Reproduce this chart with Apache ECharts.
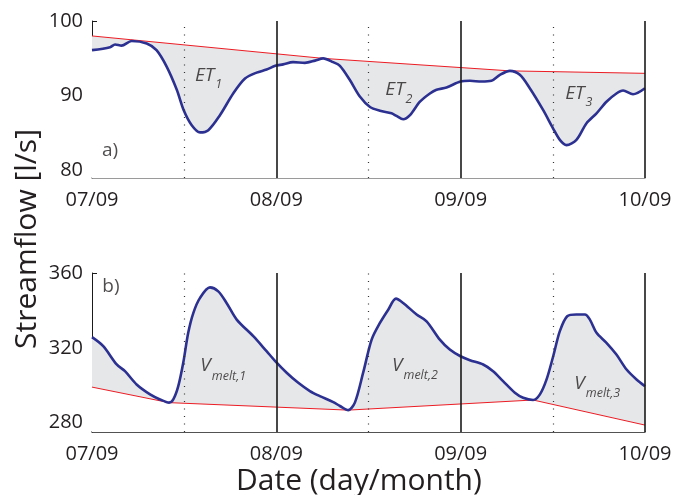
<!DOCTYPE html>
<html>
<head>
<meta charset="utf-8">
<script src="https://cdn.jsdelivr.net/npm/echarts@6/dist/echarts.min.js"></script>
<style>
  html, body { margin: 0; padding: 0; background: #fff; }
  #chart { width: 675px; height: 495px; }
</style>
</head>
<body>
<div id="chart"></div>
<script>
// Day tick labels (x in days since 07/09)
const dayLabels = ['07/09', '08/09', '09/09', '10/09'];
const dayTicks = [0, 1, 2, 3];
const middayLines = [0.5, 1.5, 2.5];

// Panel a) streamflow during ET drawdown [l/s]
const etTime = [0, 0.098, 0.125, 0.16, 0.215, 0.297, 0.35, 0.405, 0.46, 0.497, 0.54, 0.586, 0.631, 0.694,
  0.766, 0.83, 0.893, 0.947, 0.994, 1.037, 1.091, 1.155, 1.21, 1.254, 1.308, 1.345, 1.399, 1.453, 1.508,
  1.562, 1.625, 1.652, 1.688, 1.725, 1.779, 1.833, 1.869, 1.923, 1.999, 2.05, 2.113, 2.167, 2.213, 2.267,
  2.321, 2.375, 2.447, 2.501, 2.538, 2.574, 2.628, 2.682, 2.737, 2.791, 2.845, 2.881, 2.935, 3.0];
const etFlow = [96.1, 96.5, 96.85, 96.7, 97.33, 97.0, 96.1, 93.9, 90.8, 88.1, 86.1, 85.1, 85.4, 87.4,
  90.3, 92.3, 93.1, 93.5, 94.0, 94.2, 94.5, 94.4, 94.7, 95.0, 94.5, 94.0, 92.1, 89.9, 88.5,
  88.0, 87.65, 87.3, 86.85, 87.4, 89.2, 90.3, 90.8, 91.1, 91.9, 92.0, 91.9, 92.0, 92.8, 93.33,
  92.8, 91.0, 88.1, 85.65, 84.1, 83.4, 84.1, 86.3, 87.65, 89.2, 90.3, 90.7, 90.2, 91.0];
// Upper envelope through daily maxima
const etEnvTime = [0, 1.254, 2.267, 3.0];
const etEnv = [98.0, 95.0, 93.33, 93.0];

// Panel b) streamflow during melt pulses [l/s]
const meltTime = [0, 0.061, 0.134, 0.179, 0.242, 0.315, 0.369, 0.418, 0.441, 0.468, 0.495, 0.522, 0.55,
  0.586, 0.64, 0.685, 0.73, 0.785, 0.875, 0.947, 0.994, 1.056, 1.119, 1.182, 1.236, 1.309, 1.345, 1.39,
  1.426, 1.471, 1.517, 1.562, 1.607, 1.649, 1.688, 1.761, 1.815, 1.887, 1.941, 1.999, 2.05, 2.122, 2.176,
  2.23, 2.294, 2.339, 2.393, 2.43, 2.466, 2.502, 2.538, 2.578, 2.628, 2.674, 2.701, 2.737, 2.791, 2.845,
  2.9, 2.954, 3.0];
const meltFlow = [325.7, 320.9, 311.1, 307.5, 300.4, 295.1, 292.4, 290.7, 292.4, 299.5, 312, 328, 338.7,
  346.7, 352.3, 350.2, 344, 335.1, 326.2, 318.2, 312.9, 306.7, 301.3, 296.9, 294.2, 291.0, 288.9, 286.7,
  290.7, 306.7, 324.4, 333.3, 340.4, 346.3, 344, 337.8, 334.2, 324.4, 319.1, 315.5, 313.4, 311.1, 307.5,
  302.2, 296, 293.3, 292.1, 295.1, 303.1, 315.5, 328.9, 336.9, 337.8, 337.8, 335.1, 328, 322.7, 316.4,
  308.4, 303.1, 299.5];
// Lower envelope through daily minima
const meltEnvTime = [0, 0.418, 1.39, 2.393, 3.0];
const meltEnv = [299.0, 290.7, 286.7, 292.1, 278.7];

const zip = (xs, ys) => xs.map((x, i) => [x, ys[i]]);

const FONT = 'Open Sans';
const TEXT = '#231f20';
const BLUE = '#2b3091';
const RED = '#ec1c24';
const FILL = '#e6e7e8';

function vLines(gridIdx) {
  return {
    type: 'line', xAxisIndex: gridIdx, yAxisIndex: gridIdx, data: [], z: 3, silent: true,
    markLine: {
      symbol: 'none', silent: true, label: { show: false },
      data: dayTicks.slice(1).map(v => ({ xAxis: v, lineStyle: { color: '#1a1a1a', width: 1.6, type: 'solid' } }))
        .concat(middayLines.map(v => ({ xAxis: v, lineStyle: { color: '#333', width: 1.2, type: [1, 6.5] } })))
    }
  };
}

function annot(gridIdx, items) {
  return {
    type: 'scatter', xAxisIndex: gridIdx, yAxisIndex: gridIdx, symbolSize: 0, z: 6, silent: true,
    data: items.map(it => ({ value: it.at, label: { formatter: it.text } })),
    label: {
      show: true, position: 'inside', color: TEXT, fontFamily: FONT,
      rich: {
        it: { fontSize: 19, fontStyle: 'italic', lineHeight: 20, verticalAlign: 'top', color: TEXT, fontFamily: FONT },
        sub: { fontSize: 12.5, fontStyle: 'italic', lineHeight: 13, verticalAlign: 'top', padding: [12, 0, 0, 1], color: TEXT, fontFamily: FONT },
        sub2: { fontSize: 12.5, fontStyle: 'italic', lineHeight: 13, verticalAlign: 'top', padding: [13, 0, 0, 1], color: TEXT, fontFamily: FONT },
        up: { fontSize: 19, lineHeight: 20, verticalAlign: 'top', color: TEXT, fontFamily: FONT }
      }
    }
  };
}

const xAxisBase = (gridIdx, lineColor) => ({
  type: 'value', gridIndex: gridIdx, min: 0, max: 3,
  axisLine: { show: true, lineStyle: { color: lineColor, width: 1.5 } },
  axisTick: { show: false },
  splitLine: { show: false },
  axisLabel: {
    customValues: dayTicks, formatter: v => dayLabels[Math.round(v)],
    color: TEXT, fontFamily: FONT, fontSize: 20, margin: 12
  }
});

const yAxisBase = (gridIdx, min, max, ticks) => ({
  type: 'value', gridIndex: gridIdx, min: min, max: max,
  axisLine: { show: true, lineStyle: { color: '#1a1a1a', width: 1 } },
  axisTick: { show: true, inside: true, length: 5, customValues: ticks, lineStyle: { color: '#1a1a1a' } },
  splitLine: { show: false },
  axisLabel: { customValues: ticks, color: TEXT, fontFamily: FONT, fontSize: 20, margin: 9 }
});

const chart = echarts.init(document.getElementById('chart'), null, { renderer: 'canvas' });
chart.setOption({
  backgroundColor: '#fff',
  animation: false,
  grid: [
    { left: 92, right: 30, top: 21, height: 157 },
    { left: 92, right: 30, top: 273, height: 159 }
  ],
  xAxis: [xAxisBase(0, '#7a7a7a'), xAxisBase(1, '#1a1a1a')],
  yAxis: [yAxisBase(0, 79, 100, [80, 90, 100]), yAxisBase(1, 275, 360, [280, 320, 360])],
  graphic: [
    { type: 'text', left: 236, top: 466,
      style: { text: 'Date (day/month)', font: '30px "Open Sans"', fill: TEXT } },
    { type: 'text', rotation: Math.PI / 2, x: 12, y: 349,
      style: { text: 'Streamflow [l/s]', font: '30px "Open Sans"', fill: TEXT } }
  ],
  series: [
    // a) grey area under the upper envelope, white under the streamflow
    { type: 'line', xAxisIndex: 0, yAxisIndex: 0, data: zip(etEnvTime, etEnv), symbol: 'none', z: 1,
      lineStyle: { color: RED, width: 1 }, areaStyle: { color: FILL, opacity: 1, origin: 'start' } },
    { type: 'line', xAxisIndex: 0, yAxisIndex: 0, data: zip(etTime, etFlow), symbol: 'none', z: 2, smooth: 0.3,
      lineStyle: { width: 0 }, areaStyle: { color: '#fff', opacity: 1, origin: 'start' } },
    vLines(0),
    { type: 'line', xAxisIndex: 0, yAxisIndex: 0, data: zip(etTime, etFlow), symbol: 'none', z: 4, smooth: 0.3,
      lineStyle: { color: BLUE, width: 2.6 } },
    annot(0, [
      { at: [0.632, 92.6], text: '{it|ET}{sub|1}' },
      { at: [1.665, 90.7], text: '{it|ET}{sub|2}' },
      { at: [2.641, 90.2], text: '{it|ET}{sub|3}' },
      { at: [0.098, 82.6], text: '{up|a)}' }
    ]),

    // b) grey area under the streamflow, white under the lower envelope
    { type: 'line', xAxisIndex: 1, yAxisIndex: 1, data: zip(meltTime, meltFlow), symbol: 'none', z: 1, smooth: 0.3,
      lineStyle: { width: 0 }, areaStyle: { color: FILL, opacity: 1, origin: 'start' } },
    { type: 'line', xAxisIndex: 1, yAxisIndex: 1, data: zip(meltEnvTime, meltEnv), symbol: 'none', z: 2,
      lineStyle: { color: RED, width: 1 }, areaStyle: { color: '#fff', opacity: 1, origin: 'start' } },
    vLines(1),
    { type: 'line', xAxisIndex: 1, yAxisIndex: 1, data: zip(meltTime, meltFlow), symbol: 'none', z: 4, smooth: 0.3,
      lineStyle: { color: BLUE, width: 2.6 } },
    annot(1, [
      { at: [0.712, 310.0], text: '{it|V}{sub2|melt,1}' },
      { at: [1.752, 310.5], text: '{it|V}{sub2|melt,2}' },
      { at: [2.741, 300.7], text: '{it|V}{sub2|melt,3}' },
      { at: [0.103, 352.2], text: '{up|b)}' }
    ])
  ]
});
</script>
</body>
</html>
